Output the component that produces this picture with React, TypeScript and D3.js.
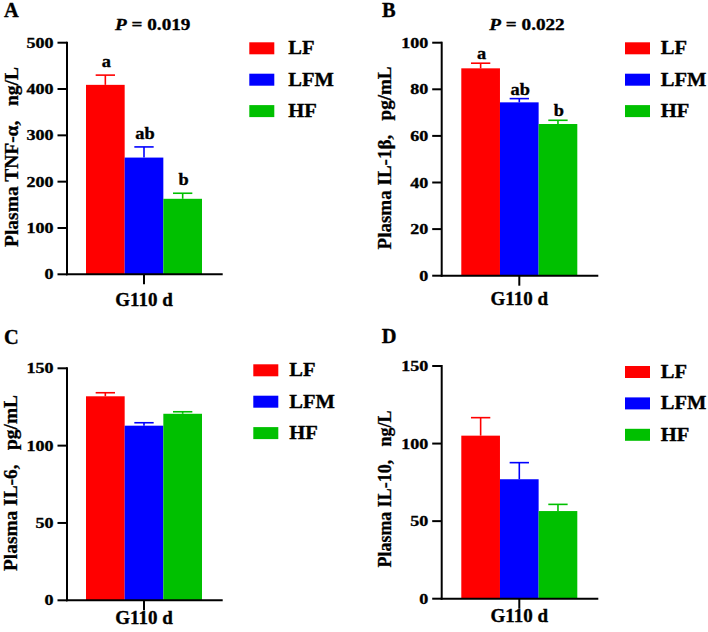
import React from "react";
import * as d3 from "d3";

const groups = ["LF", "LFM", "HF"];
const colors = ["#ff0000", "#0000ff", "#00c000"];

const tnfMean = [409, 252, 163];
const tnfSem = [21, 23, 12];
const il1bMean = [89.0, 74.4, 65.1];
const il1bSem = [2.2, 1.6, 1.6];
const il6Mean = [131.9, 112.9, 120.6];
const il6Sem = [2.3, 1.9, 1.3];
const il10Mean = [105.1, 77.0, 56.5];
const il10Sem = [11.6, 10.7, 4.3];

const tnfTicks = [0, 100, 200, 300, 400, 500];
const il1bTicks = [0, 20, 40, 60, 80, 100];
const il6Ticks = [0, 50, 100, 150];
const il10Ticks = [0, 50, 100, 150];

const lettersAB = ["a", "ab", "b"];
const xCategory = "G110 d";

const FONT = '"Liberation Serif", "Times New Roman", serif';

type PanelCfg = {
  tag: string;
  tagX: number;
  tagY: number;
  axisX: number;
  y0: number;
  yTop: number;
  barL: number;
  barR: number;
  xEnd: number;
  xLabelY: number;
  mean: number[];
  sem: number[];
  ticks: number[];
  title: string;
  titleX: number;
  titleY: number;
  titleLen: number;
  pText?: string;
  pX?: number;
  letters?: string[];
  letterGap?: number;
  legX: number;
  legY: number;
  legTextX: number;
};

function SText(props: {
  x: number;
  y: number;
  size: number;
  sx?: number;
  anchor?: string;
  children: React.ReactNode;
}) {
  const { x, y, size, sx = 1, anchor = "start", children } = props;
  return (
    <text
      transform={`translate(${x},${y}) scale(${sx},1)`}
      fontFamily={FONT}
      fontWeight="bold"
      fontSize={size}
      textAnchor={anchor}
      fill="#000"
      stroke="#000"
      strokeWidth={0.35}
      style={{ whiteSpace: "pre" }}
    >
      {children}
    </text>
  );
}

function Panel({ c }: { c: PanelCfg }) {
  const yMax = c.ticks[c.ticks.length - 1];
  const y = d3.scaleLinear().domain([0, yMax]).range([c.y0, c.yTop]);
  const x = d3.scaleBand().domain(groups).range([c.barL, c.barR]).padding(0);
  const bw = x.bandwidth();
  const tickX = (c.barL + c.barR) / 2;
  return (
    <g>
      <SText x={c.tagX} y={c.tagY} size={20} sx={1.02}>
        {c.tag}
      </SText>
      {c.pText && (
        <text
          transform={`translate(${c.pX},30) scale(1.2,1)`}
          fontFamily={FONT}
          fontWeight="bold"
          fontSize={16}
          textAnchor="middle"
          stroke="#000"
          strokeWidth={0.3}
          style={{ whiteSpace: "pre" }}
        >
          <tspan fontStyle="italic">P</tspan>
          {c.pText}
        </text>
      )}
      {groups.map((g, i) => {
        const bx = x(g) as number;
        const top = y(c.mean[i]);
        const et = y(c.mean[i] + c.sem[i]);
        const cx = bx + bw / 2;
        return (
          <g key={g}>
            <rect x={bx} y={top} width={bw} height={c.y0 - top} fill={colors[i]} />
            <line x1={cx} x2={cx} y1={top} y2={et} stroke={colors[i]} strokeWidth={1.6} />
            <line x1={cx - bw / 4} x2={cx + bw / 4} y1={et} y2={et} stroke={colors[i]} strokeWidth={1.6} />
            {c.letters && (
              <SText x={cx + 1} y={et - (c.letterGap ?? 7)} size={17} sx={1.08} anchor="middle">
                {c.letters[i]}
              </SText>
            )}
          </g>
        );
      })}
      {/* y axis */}
      <line x1={c.axisX} x2={c.axisX} y1={c.y0 + 1} y2={c.yTop - 1} stroke="#000" strokeWidth={2} />
      {c.ticks.map((t) => (
        <g key={t}>
          <line x1={c.axisX - 9.5} x2={c.axisX} y1={y(t)} y2={y(t)} stroke="#000" strokeWidth={2} />
          <SText x={c.axisX - 13.5} y={y(t) + 5} size={15} sx={1.2} anchor="end">
            {String(t)}
          </SText>
        </g>
      ))}
      {/* x axis */}
      <line x1={c.axisX - 1} x2={c.xEnd} y1={c.y0} y2={c.y0} stroke="#000" strokeWidth={2} />
      <line x1={tickX} x2={tickX} y1={c.y0} y2={c.y0 + 10} stroke="#000" strokeWidth={2} />
      <SText x={tickX} y={c.xLabelY} size={19} anchor="middle">
        {xCategory}
      </SText>
      {/* y title */}
      <text
        transform={`translate(${c.titleX},${c.titleY}) rotate(-90)`}
        fontFamily={FONT}
        fontWeight="bold"
        fontSize={19}
        textAnchor="middle"
        textLength={c.titleLen}
        lengthAdjust="spacingAndGlyphs"
        stroke="#000"
        strokeWidth={0.3}
        style={{ whiteSpace: "pre" }}
      >
        {c.title}
      </text>
      {/* legend */}
      {groups.map((g, i) => {
        const ly = c.legY + i * 31.4;
        return (
          <g key={"leg" + g}>
            <rect x={c.legX} y={ly} width={25} height={12} fill={colors[i]} />
            <SText x={c.legTextX} y={ly + 12} size={18} sx={1.14}>
              {g}
            </SText>
          </g>
        );
      })}
    </g>
  );
}

const panels: PanelCfg[] = [
  {
    tag: "A", tagX: 4, tagY: 16.7,
    axisX: 67, y0: 274.3, yTop: 42.7, barL: 86, barR: 202, xEnd: 222.7, xLabelY: 306,
    mean: tnfMean, sem: tnfSem, ticks: tnfTicks,
    title: "Plasma TNF-α,   ng/L", titleX: 17.5, titleY: 157, titleLen: 180,
    pText: " = 0.019", pX: 152.7, letters: lettersAB, letterGap: 8,
    legX: 249.3, legY: 42.3, legTextX: 288.3,
  },
  {
    tag: "B", tagX: 382, tagY: 16.7,
    axisX: 441.7, y0: 275.7, yTop: 42.7, barL: 461.3, barR: 577.3, xEnd: 598.3, xLabelY: 305,
    mean: il1bMean, sem: il1bSem, ticks: il1bTicks,
    title: "Plasma IL-1β,   pg/mL", titleX: 391, titleY: 158, titleLen: 183,
    pText: " = 0.022", pX: 527, letters: lettersAB, letterGap: 4,
    legX: 625, legY: 42.3, legTextX: 660.7,
  },
  {
    tag: "C", tagX: 4, tagY: 344,
    axisX: 67, y0: 600.3, yTop: 368.3, barL: 86, barR: 202, xEnd: 222.7, xLabelY: 623.5,
    mean: il6Mean, sem: il6Sem, ticks: il6Ticks,
    title: "Plasma IL-6,   pg/mL", titleX: 17, titleY: 483, titleLen: 176,
    legX: 253.3, legY: 364.3, legTextX: 289.3,
  },
  {
    tag: "D", tagX: 381.7, tagY: 343,
    axisX: 441.7, y0: 598.7, yTop: 366, barL: 461.3, barR: 577.3, xEnd: 598.3, xLabelY: 622,
    mean: il10Mean, sem: il10Sem, ticks: il10Ticks,
    title: "Plasma IL-10,   ng/L", titleX: 391, titleY: 489, titleLen: 157,
    legX: 625, legY: 366, legTextX: 660.7,
  },
];

export default function App() {
  return (
    <svg
      width={708}
      height={632}
      viewBox="0 0 708 632"
      style={{ position: "absolute", left: 0, top: 0, background: "#fff" }}
    >
      <rect x={0} y={0} width={708} height={632} fill="#fff" />
      {panels.map((p) => (
        <Panel key={p.tag} c={p} />
      ))}
    </svg>
  );
}
